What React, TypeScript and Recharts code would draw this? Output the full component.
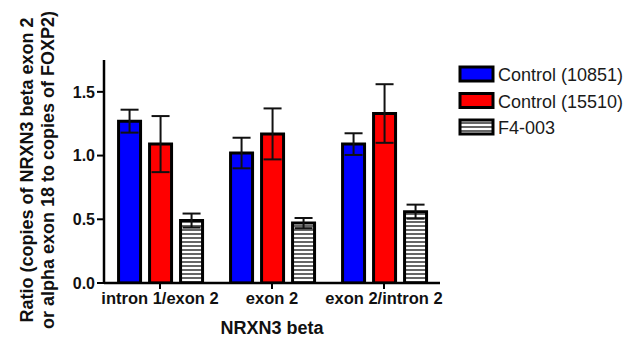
import { Bar, BarChart, ErrorBar, XAxis, YAxis } from "recharts";

const regions = ["intron 1/exon 2", "exon 2", "exon 2/intron 2"];
const control10851 = [1.27, 1.02, 1.09];
const control10851Err = [0.09, 0.12, 0.085];
const control15510 = [1.09, 1.17, 1.33];
const control15510Err = [0.22, 0.2, 0.23];
const f4003 = [0.49, 0.47, 0.56];
const f4003Err = [0.055, 0.04, 0.055];
const yTicks = [0, 0.5, 1.0, 1.5];

const data = regions.map((name, i) => ({
	name,
	c1: control10851[i],
	c1Err: control10851Err[i],
	c2: control15510[i],
	c2Err: control15510Err[i],
	f4: f4003[i],
	f4Err: f4003Err[i],
}));

const font = "'Liberation Sans', Arial, sans-serif";

const legendItems = [
	{ label: "Control (10851)", fill: "#0000ff" },
	{ label: "Control (15510)", fill: "#ff0000" },
	{ label: "F4-003", fill: "url(#hatchLegend)" },
];

function LegendBox() {
	return (
		<svg width={170} height={85} style={{ fontFamily: font, display: "block" }}>
			<defs>
				<pattern id="hatchLegend" width={4} height={4} patternUnits="userSpaceOnUse">
					<rect width={4} height={4} fill="#fff" />
					<line x1={0} y1={2} x2={4} y2={2} stroke="#000" strokeWidth={1.2} />
				</pattern>
			</defs>
			{legendItems.map((it, i) => (
				<g key={it.label} transform={`translate(0, ${i * 26.5})`}>
					<rect x={3} y={3} width={33} height={14} fill={it.fill} stroke="#000" strokeWidth={3} />
					<text x={41} y={17} fontSize={18} fill="#1a1a1a">
						{it.label}
					</text>
				</g>
			))}
		</svg>
	);
}

function YLabel() {
	return (
		<text
			transform="translate(33, 170) rotate(-90)"
			textAnchor="middle"
			fontSize={18}
			fontWeight="bold"
			fontFamily={font}
			fill="#111"
		>
			<tspan x={0} y={0}>
				Ratio (copies of NRXN3 beta exon 2
			</tspan>
			<tspan x={0} y={21}>
				or alpha exon 18 to copies of FOXP2)
			</tspan>
		</text>
	);
}

export default function App() {
	return (
		<div style={{ position: "absolute", left: 0, top: 0, width: 626, height: 337, background: "#fff" }}>
			<BarChart
				width={626}
				height={337}
				data={data}
				margin={{ top: 60, right: 186, left: 64, bottom: 24 }}
				barCategoryGap="13%"
				barGap={9}
			>
				<defs>
					<pattern id="hatch" width={4} height={4} patternUnits="userSpaceOnUse">
						<rect width={4} height={4} fill="#fff" />
						<line x1={0} y1={2} x2={4} y2={2} stroke="#000" strokeWidth={1.2} />
					</pattern>
				</defs>
				<XAxis
					dataKey="name"
					height={30}
					interval={0}
					axisLine={{ stroke: "#000", strokeWidth: 2.5 }}
					tickLine={{ stroke: "#000", strokeWidth: 2 }}
					tickSize={6}
					tickMargin={3}
					tick={{ fill: "#111", fontSize: 16.5, fontWeight: "bold", fontFamily: font }}
					label={{
						value: "NRXN3 beta",
						position: "insideBottom",
						offset: -21,
						fill: "#111",
						fontSize: 18,
						fontWeight: "bold",
						fontFamily: font,
					}}
				/>
				<YAxis
					width={40}
					domain={[0, 1.75]}
					ticks={yTicks}
					allowDataOverflow
					tickFormatter={(v: number) => v.toFixed(1)}
					axisLine={{ stroke: "#000", strokeWidth: 2.5 }}
					tickLine={{ stroke: "#000", strokeWidth: 2 }}
					tickSize={7}
					tickMargin={2}
					tick={{ fill: "#111", fontSize: 16, fontWeight: "bold", fontFamily: font }}
					label={{ content: YLabel }}
				/>
				<Bar dataKey="c1" name="Control (10851)" fill="#0000ff" stroke="#000" strokeWidth={3} isAnimationActive={false}>
					<ErrorBar dataKey="c1Err" width={9} stroke="#111" strokeWidth={2} />
				</Bar>
				<Bar dataKey="c2" name="Control (15510)" fill="#ff0000" stroke="#000" strokeWidth={3} isAnimationActive={false}>
					<ErrorBar dataKey="c2Err" width={9} stroke="#111" strokeWidth={2} />
				</Bar>
				<Bar dataKey="f4" name="F4-003" fill="url(#hatch)" stroke="#000" strokeWidth={3} isAnimationActive={false}>
					<ErrorBar dataKey="f4Err" width={9} stroke="#111" strokeWidth={2} />
				</Bar>
			</BarChart>
			<div style={{ position: "absolute", left: 457, top: 64 }}>
				<LegendBox />
			</div>
		</div>
	);
}
